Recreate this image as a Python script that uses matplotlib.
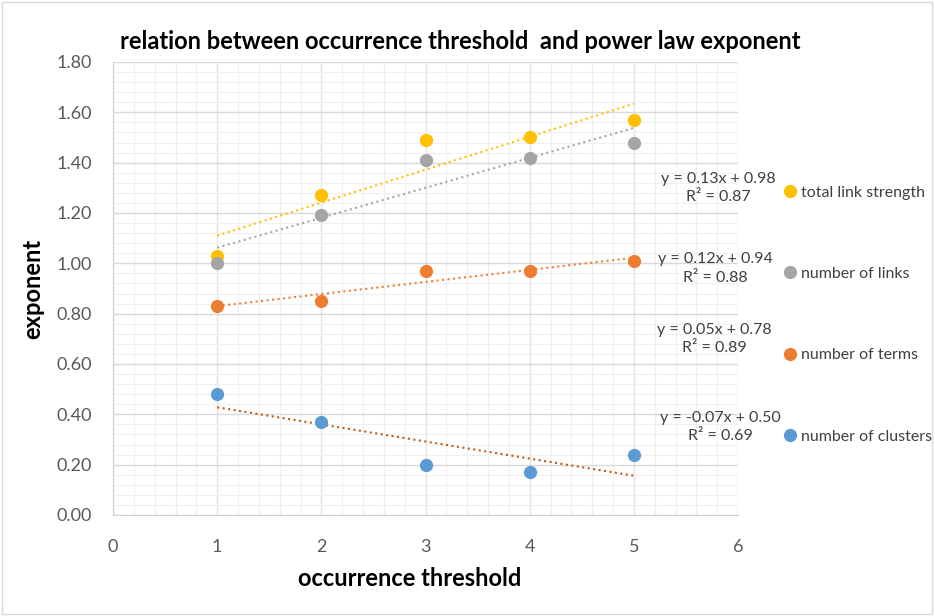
import numpy as np
import matplotlib.pyplot as plt
from matplotlib.patches import Rectangle

# ==========================================
# DATA
# ==========================================
thresholds = [1, 2, 3, 4, 5]
series_names = ['total link strength', 'number of links', 'number of terms', 'number of clusters']
total_link_strength = [1.03, 1.27, 1.49, 1.50, 1.57]
number_of_links = [1.00, 1.19, 1.41, 1.42, 1.48]
number_of_terms = [0.83, 0.85, 0.97, 0.97, 1.01]
number_of_clusters = [0.48, 0.37, 0.20, 0.17, 0.24]
y_ticks = [0.00, 0.20, 0.40, 0.60, 0.80, 1.00, 1.20, 1.40, 1.60, 1.80]
x_ticks = [0, 1, 2, 3, 4, 5, 6]

# ==========================================
# STYLE
# ==========================================
plt.rcParams['font.family'] = ['Lato', 'DejaVu Sans']
point_colors = ['#FFC000', '#A5A5A5', '#ED7D31', '#5B9BD5']
trend_colors = ['#FFC000', '#A5A5A5', '#ED7D31', '#C55A11']
label_pos = [(5.815, 1.30), (5.78, 0.98), (5.77, 0.70), (5.83, 0.35)]

fig = plt.figure(figsize=(9.35, 6.16), dpi=100)
ax = fig.add_axes([0.1209, 0.1640, 0.6684, 0.7354])

all_series = [total_link_strength, number_of_links, number_of_terms, number_of_clusters]
x = np.array(thresholds, dtype=float)

for name, ys, pc, tc, (lx, ly) in zip(series_names, all_series, point_colors, trend_colors, label_pos):
    y = np.array(ys)
    slope, intercept = np.polyfit(x, y, 1)
    fit = slope * x + intercept
    r2 = 1 - np.sum((y - fit) ** 2) / np.sum((y - y.mean()) ** 2)
    ax.plot(x, fit, linestyle=':', color=tc, linewidth=1.5, zorder=2)
    ax.plot(x, y, 'o', color=pc, markersize=8.5, label=name, zorder=3, linestyle='none')
    ax.text(lx, ly, f"y = {slope:.2f}x + {intercept:.2f}\nR\u00b2 = {r2:.2f}",
            ha='center', va='center', fontsize=11.5, color='#404040',
            linespacing=1.4, multialignment='center', zorder=4)

ax.set_xlim(0, 6)
ax.set_ylim(0, 1.8)
ax.set_xticks(x_ticks)
ax.set_yticks(y_ticks)
ax.set_yticklabels([f"{v:.2f}" for v in y_ticks])
ax.set_xticks(np.arange(0, 6.01, 0.2), minor=True)
ax.set_yticks(np.arange(0, 1.801, 0.04), minor=True)
ax.grid(which='major', axis='y', color='#D9D9D9', linewidth=1.0)
ax.grid(which='major', axis='x', color='#E3E3E3', linewidth=1.0)
ax.grid(which='minor', color='#EFEFEF', linewidth=0.8)
ax.set_axisbelow(True)
ax.tick_params(which='both', length=0)
ax.tick_params(axis='y', labelsize=13, labelcolor='#595959', pad=15)
ax.tick_params(axis='x', labelsize=13, labelcolor='#595959', pad=17)

for side in ['top', 'right']:
    ax.spines[side].set_visible(False)
for side in ['left', 'bottom']:
    ax.spines[side].set_color('#D0D0D0')

ax.set_xlabel('occurrence threshold', fontsize=17, fontweight='bold', color='black', labelpad=9)
ax.xaxis.set_label_coords(0.475, -0.115)
ax.set_ylabel('exponent', fontsize=17, fontweight='bold', color='black', labelpad=9)

fig.text(0.492, 0.933, 'relation between occurrence threshold  and power law exponent',
         ha='center', va='center', fontsize=17, fontweight='bold', color='black')

fig.legend(loc='upper left', bbox_to_anchor=(0.829, 0.709), frameon=False,
           fontsize=11.5, labelspacing=4.2, handletextpad=0.1, markerscale=1.0,
           borderaxespad=0, handlelength=1.1, labelcolor='#404040')

fig.patches.append(Rectangle((0.002, 0.004), 0.995, 0.993, transform=fig.transFigure,
                             fill=False, edgecolor='#D9D9D9', linewidth=1))

plt.savefig('out.png', dpi=100)
